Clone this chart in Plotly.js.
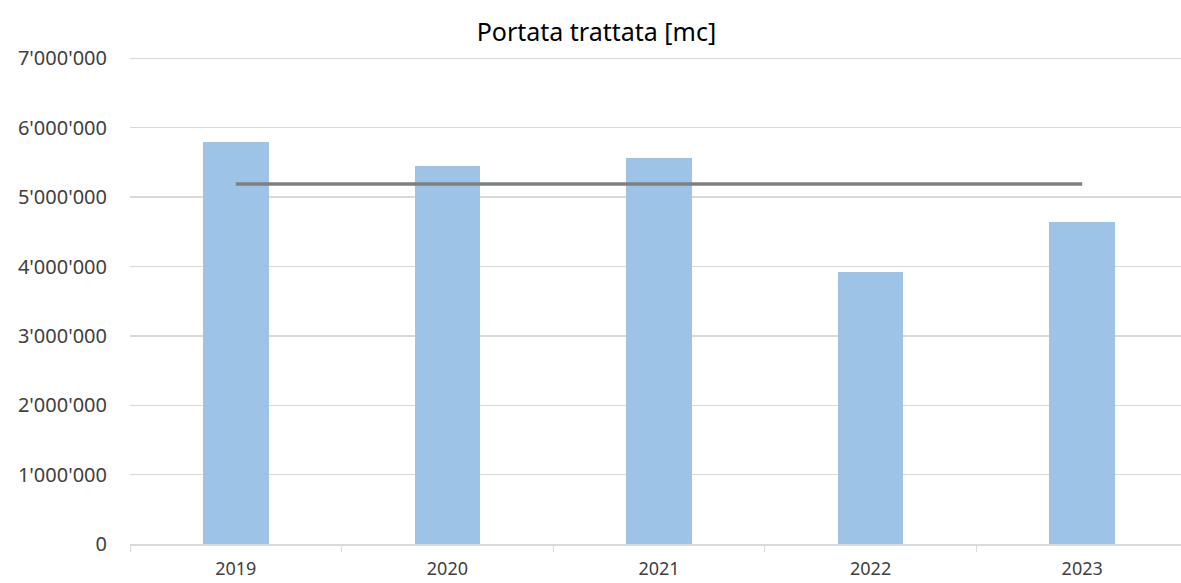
<!DOCTYPE html>
<html>
<head>
<meta charset="utf-8">
<script src="https://cdn.plot.ly/plotly-3.0.1.min.js"></script>
<style>html,body{margin:0;padding:0;overflow:hidden;background:#fff}</style>
</head>
<body>
<div id="chart" style="width:1181px;height:583px"></div>
<script>
const years = ['2019', '2020', '2021', '2022', '2023'];
const portata = [5800000, 5450000, 5565000, 3915000, 4642000];
const riferimento = [5190000, 5190000, 5190000, 5190000, 5190000];
const yTicks = [0, 1000000, 2000000, 3000000, 4000000, 5000000, 6000000, 7000000];

const font = 'Noto Sans, Open Sans, sans-serif';

Plotly.newPlot('chart', [
  {
    type: 'bar', x: years, y: portata, width: 0.31,
    marker: {color: '#9DC3E6'}, hoverinfo: 'x+y', showlegend: false
  },
  {
    type: 'scatter', mode: 'lines', x: years, y: riferimento,
    line: {color: '#7F7F7F', width: 3.5}, showlegend: false
  }
], {
  width: 1181, height: 583,
  separators: ".'",
  margin: {l: 130, r: 0, t: 57, b: 39},
  paper_bgcolor: '#fff', plot_bgcolor: '#fff',
  title: {text: 'Portata trattata [mc]', x: 0.505, xanchor: 'center', y: 0.945, yanchor: 'middle',
          font: {family: font, size: 25, color: '#000'}},
  xaxis: {
    type: 'category', range: [-0.5, 4.467], tickson: 'boundaries',
    ticks: 'outside', ticklen: 6, tickcolor: '#D9D9D9', tickwidth: 1,
    showline: true, linecolor: '#D9D9D9', linewidth: 1.5,
    showgrid: false, ticklabelstandoff: 8,
    tickfont: {family: font, size: 18, color: '#404040'}
  },
  yaxis: {
    range: [0, 7020000], tickvals: yTicks, tickformat: ',d',
    showgrid: true, gridcolor: '#D9D9D9', gridwidth: 1.3,
    zeroline: false, showline: false, ticks: '', ticklabelstandoff: 22,
    tickfont: {family: font, size: 20, color: '#404040'}
  },
  bargap: 0
}, {displayModeBar: false, staticPlot: true});
</script>
</body>
</html>
